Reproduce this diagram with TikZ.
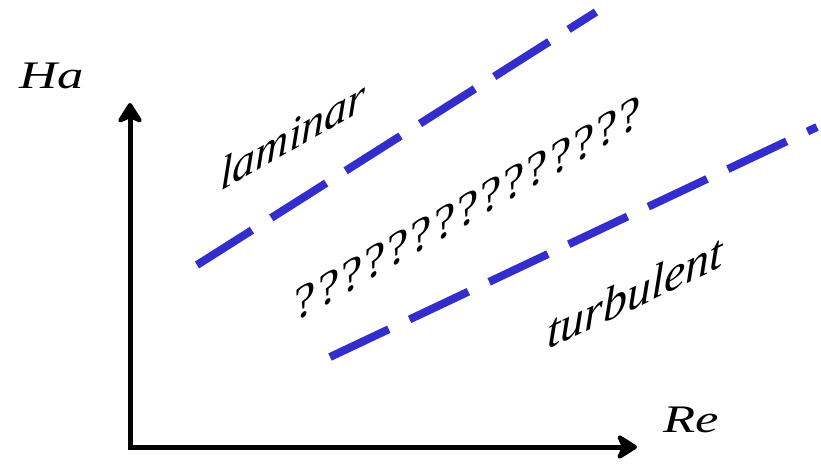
\documentclass[tikz,border=0pt]{standalone}
\usepackage{fontspec}
\setmainfont{Liberation Serif}
\usetikzlibrary{arrows.meta}
\definecolor{bandblue}{RGB}{51,45,204}
% one question mark in a box of fixed advance
\newcommand\qbox{\makebox[23.2pt]{?}}
\tikzset{
  axishead/.tip={Stealth[length=24pt,width=30pt,inset=7pt,round]},
  axis/.style={line width=5pt, {axishead}-{axishead}},
  boundary/.style={bandblue, line width=8pt, dash pattern=on 65pt off 23pt},
  axislabel/.style={inner sep=0pt, xscale=1.35, font=\fontsize{39}{41}\selectfont\itshape},
  region/.style={inner sep=0pt, font=\fontsize{48}{50}\selectfont\itshape},
}
\begin{document}
\begin{tikzpicture}[x=1pt, y=-1pt]
  \useasboundingbox (0,0) rectangle (821,466);
  % axes
  \coordinate (o) at (130,447);
  \coordinate (ytip) at (130,103);
  \coordinate (xtip) at (637,447);
  \draw[axis] (ytip) -- (o) -- (xtip);
  \node[axislabel, anchor=base] (ha) at (52,88) {Ha};
  \node[axislabel, anchor=base] (re) at (691,432) {Re};
  % regime boundaries
  \coordinate (u1) at (197,265);
  \coordinate (u2) at (596,12);
  \coordinate (l1) at (330,357);
  \coordinate (l2) at (817,127);
  \draw[boundary] (u1) -- (u2);
  \draw[boundary] (l1) -- (l2);
  % regime labels, slanted along the boundaries
  \node[region, anchor=base west, yslant=0.57, font=\fontsize{46}{48}\selectfont\itshape] (lam) at (220,192) {laminar};
  \node[inner sep=0pt, anchor=base, yslant=0.569, font=\fontsize{48}{50}\selectfont] (unk) at (468,224) {\qbox\qbox\qbox\qbox\qbox\qbox\qbox\qbox\qbox\qbox\qbox\qbox\qbox\qbox\qbox};
  \node[region, anchor=base west, yslant=0.473] (turb) at (547,350) {turbulent};
\end{tikzpicture}
\end{document}
